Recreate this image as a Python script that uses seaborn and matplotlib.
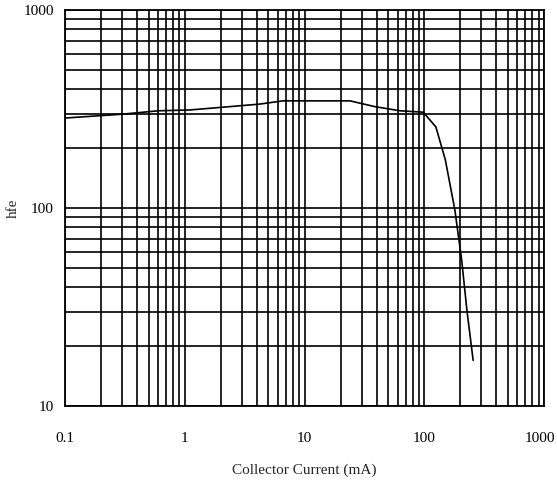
"""hfe vs collector current"""

import numpy as np
import pandas as pd
import matplotlib
matplotlib.use('Agg')
import matplotlib.pyplot as plt
import matplotlib.transforms as mtransforms
import seaborn as sns
from matplotlib.ticker import LogLocator, NullFormatter, FixedLocator, FixedFormatter

# values
current_ma = [0.1, 0.3, 0.6, 1.1, 4.2, 6.6, 24, 39, 63, 98, 125, 150, 180, 205, 227, 256]
hfe = [285, 298, 310, 313, 335, 348, 348, 325, 310, 305, 257, 175, 98, 55, 30.5, 17]
x_ticks = [0.1, 1, 10, 100, 1000]
x_labels = ['0.1', '1', '10', '100', '1000']
y_ticks = [10, 100, 1000]
y_labels = ['10', '100', '1000']

df = pd.DataFrame({'current': current_ma, 'hfe': hfe})

sns.set_style('white')
plt.rcParams['font.family'] = ['Liberation Serif', 'DejaVu Serif']

fig = plt.figure(figsize=(5.57, 4.82), dpi=100)
ax = fig.add_axes([0.1167, 0.1577, 0.86, 0.8213])

sns.lineplot(data=df, x='current', y='hfe', ax=ax, color='black', linewidth=1.2)

ax.set_xscale('log')
ax.set_yscale('log')
ax.set_xlim(0.1, 1000)
ax.set_ylim(10, 1000)

ax.xaxis.set_major_locator(FixedLocator(x_ticks))
ax.xaxis.set_major_formatter(FixedFormatter(x_labels))
ax.yaxis.set_major_locator(FixedLocator(y_ticks))
ax.yaxis.set_major_formatter(FixedFormatter(y_labels))
ax.xaxis.set_minor_locator(LogLocator(base=10, subs=np.arange(2, 10)))
ax.yaxis.set_minor_locator(LogLocator(base=10, subs=np.arange(2, 10)))
ax.xaxis.set_minor_formatter(NullFormatter())
ax.yaxis.set_minor_formatter(NullFormatter())

ax.grid(True, which='both', color='black', linewidth=1.2)
ax.tick_params(which='both', length=0, labelsize=11, colors='black')
ax.tick_params(axis='x', pad=19)
ax.tick_params(axis='y', pad=8)
for s in ax.spines.values():
    s.set_color('black')
    s.set_linewidth(1.3)

# keep the last x label inside the canvas
last = ax.get_xticklabels()[-1]
last.set_ha('right')
last.set_transform(last.get_transform() +
                   mtransforms.ScaledTranslation(11 / 100, 0, fig.dpi_scale_trans))

ax.set_xlabel('Collector Current (mA)', fontsize=11, labelpad=13)
ax.set_ylabel('hfe', fontsize=11, va='center')
ax.yaxis.set_label_coords(-0.108, 0.5)

plt.savefig('out.png', dpi=100)
